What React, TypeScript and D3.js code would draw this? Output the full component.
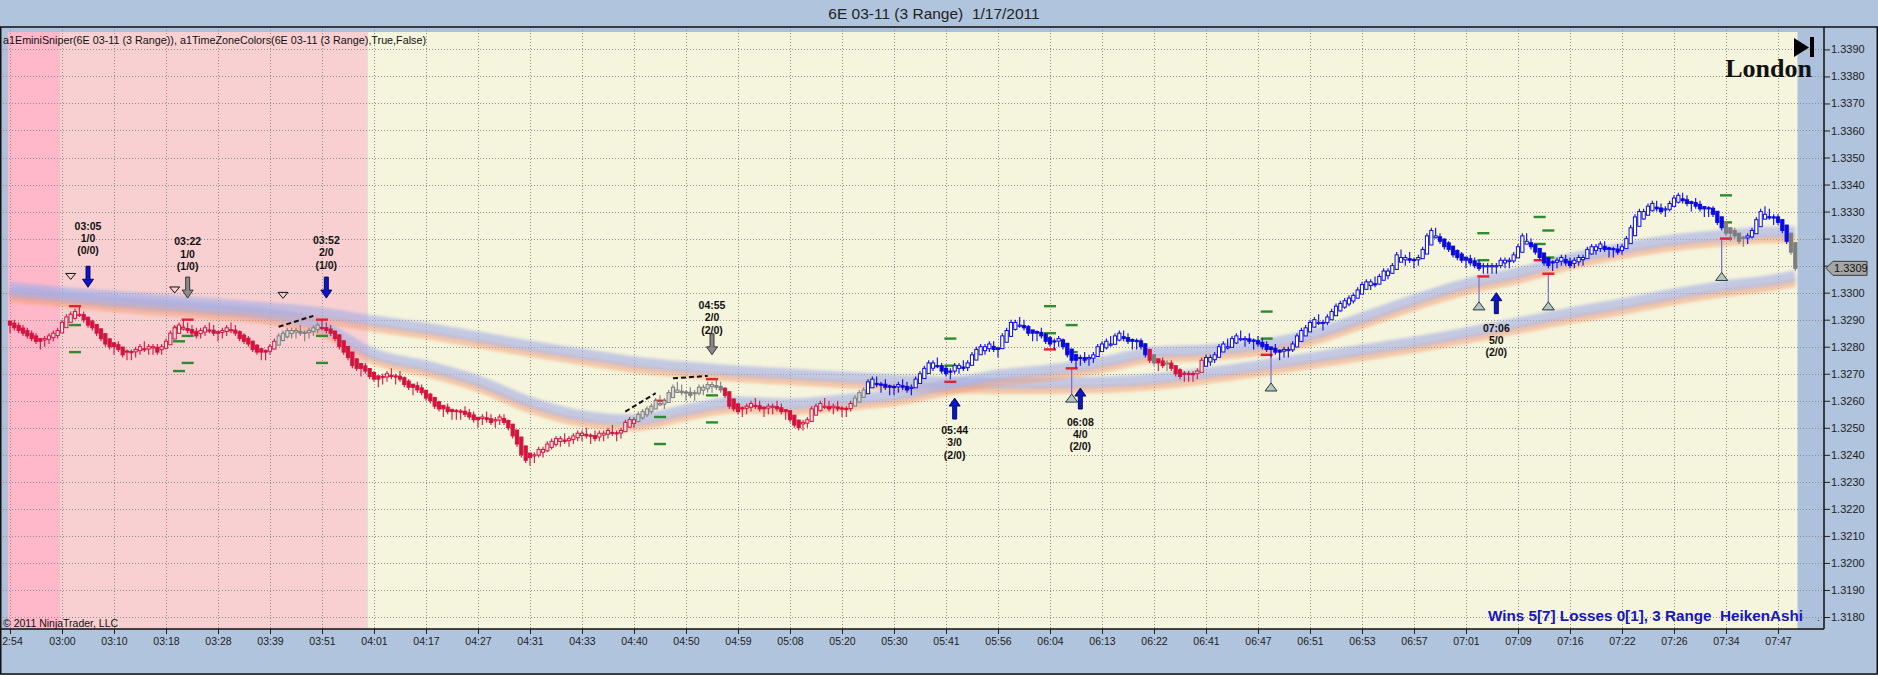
import { useEffect, useRef } from "react";
import * as d3 from "d3";

const chartTitle = "6E 03-11 (3 Range)  1/17/2011";
const indicatorLabel =
  "a1EminiSniper(6E 03-11 (3 Range)), a1TimeZoneColors(6E 03-11 (3 Range),True,False)";
const statsLabel = "Wins 5[7] Losses 0[1], 3 Range  HeikenAshi";
const copyrightLabel = "\u00a9 2011 NinjaTrader, LLC";
const sessionName = "London";

// one time label every 12 range bars (the first one is cut by the panel edge)
const BARS_PER_LABEL = 12;
const timeLabels = [
  "2:54", "03:00", "03:10", "03:18", "03:28", "03:39", "03:51", "04:01", "04:17",
  "04:27", "04:31", "04:33", "04:40", "04:50", "04:59", "05:08", "05:20", "05:30",
  "05:41", "05:56", "06:04", "06:13", "06:22", "06:41", "06:47", "06:51", "06:53",
  "06:57", "07:01", "07:09", "07:16", "07:22", "07:26", "07:34", "07:47",
];

const priceTicks = [
  1.318, 1.319, 1.32, 1.321, 1.322, 1.323, 1.324, 1.325, 1.326, 1.327, 1.328,
  1.329, 1.33, 1.331, 1.332, 1.333, 1.334, 1.335, 1.336, 1.337, 1.338, 1.339,
];

// Heiken Ashi close of every 3-tick range bar, in pips above 1.3000
const closePips = [
  288, 287, 286, 285, 284, 283, 282, 282, 283, 284, 285, 286,
  289, 291, 292, 293, 292, 290, 288, 287, 285, 283, 281, 280,
  280, 279, 277, 278, 278, 279, 280, 279, 280, 280, 278, 280,
  282, 285, 287, 288, 287, 286, 285, 284, 286, 287, 286, 285,
  285, 286, 287, 286, 285, 283, 282, 281, 279, 278, 278, 278,
  280, 282, 284, 285, 286, 286, 286, 285, 285, 286, 287, 288,
  287, 286, 285, 283, 280, 278, 276, 273, 272, 272, 271, 269,
  268, 268, 269, 270, 269, 269, 268, 266, 265, 265, 264, 263,
  261, 260, 258, 257, 257, 256, 256, 256, 256, 255, 254, 253,
  253, 254, 253, 252, 253, 254, 252, 250, 247, 244, 240, 238,
  239, 240, 242, 242, 244, 245, 246, 246, 245, 246, 247, 248,
  248, 247, 247, 246, 248, 248, 249, 248, 248, 249, 252, 253,
  253, 255, 256, 257, 258, 260, 259, 260, 263, 265, 264, 263,
  263, 262, 263, 265, 265, 266, 266, 265, 264, 262, 258, 257,
  256, 257, 258, 259, 258, 257, 257, 258, 258, 257, 256, 256,
  253, 251, 250, 252, 253, 257, 258, 259, 258, 257, 258, 257,
  257, 257, 259, 261, 263, 264, 267, 268, 266, 266, 265, 265,
  265, 266, 265, 264, 265, 268, 270, 272, 274, 274, 273, 271,
  270, 271, 273, 273, 272, 274, 277, 279, 280, 280, 281, 279,
  279, 284, 286, 289, 289, 288, 287, 285, 285, 285, 284, 282,
  281, 282, 283, 280, 277, 275, 275, 276, 275, 276, 277, 280,
  281, 282, 281, 284, 285, 283, 282, 282, 282, 280, 277, 275,
  274, 274, 273, 274, 272, 270, 269, 270, 270, 270, 271, 275,
  276, 276, 277, 280, 281, 280, 283, 284, 283, 283, 282, 282,
  281, 280, 279, 279, 278, 278, 279, 279, 281, 284, 286, 287,
  289, 290, 289, 289, 291, 293, 295, 296, 297, 298, 299, 301,
  303, 304, 304, 303, 306, 308, 308, 310, 314, 313, 313, 312,
  312, 313, 316, 321, 323, 321, 319, 317, 316, 314, 313, 312,
  312, 311, 310, 309, 310, 310, 310, 310, 312, 312, 312, 314,
  317, 321, 319, 317, 315, 313, 311, 310, 311, 312, 313, 311,
  310, 312, 313, 313, 316, 317, 317, 318, 316, 316, 316, 315,
  317, 320, 324, 328, 330, 330, 332, 333, 331, 330, 331, 333,
  335, 336, 334, 333, 333, 332, 331, 331, 331, 329, 326, 324,
  322, 322, 321, 319, 320, 321, 323, 327, 330, 329, 328, 328,
  326, 323, 319, 315, 309,
];

// bar colouring by trend: [first bar, last bar, trend]
const trendRuns: [number, number, string][] = [
  [0, 61, "down"], [62, 71, "flat"], [72, 144, "down"], [145, 164, "flat"],
  [165, 194, "down"], [195, 197, "flat"], [198, 262, "up"], [263, 263, "down"],
  [264, 264, "flat"], [265, 266, "down"], [267, 267, "flat"], [268, 275, "down"],
  [276, 395, "up"], [396, 400, "flat"], [401, 410, "up"], [411, 412, "flat"],
];

// time zone background: [first bar, last bar, zone]
const zoneRuns: [number, number, string][] = [
  [0, 11, "pre"], [12, 82, "open"], [83, 412, "london"],
];

// moving-average ribbons, read at every label bar and at the last bar
const fastMA = [
  1.33002, 1.32987, 1.32968, 1.32954, 1.32939, 1.32921, 1.32877, 1.32773, 1.32729,
  1.32673, 1.32595, 1.32544, 1.32529, 1.32566, 1.32595, 1.32588, 1.32603, 1.32621,
  1.32658, 1.32695, 1.32714, 1.32743, 1.3278, 1.32788, 1.32806, 1.32843, 1.32906,
  1.32973, 1.33032, 1.33073, 1.33125, 1.33165, 1.33195, 1.33213, 1.33224, 1.33224,
];
const slowMA = [
  1.33021, 1.33002, 1.32987, 1.32973, 1.32958, 1.32943, 1.32925, 1.32895, 1.32869,
  1.32836, 1.32803, 1.32773, 1.32744, 1.32725, 1.3271, 1.32699, 1.32688, 1.32677,
  1.32669, 1.32666, 1.32666, 1.32669, 1.32681, 1.32703, 1.32729, 1.32758, 1.32788,
  1.32817, 1.32851, 1.32888, 1.32925, 1.32958, 1.32995, 1.33025, 1.3305, 1.33062,
];

// trade signals: [bar, direction, kind, arrow tip price, label price, time, trades, stats]
const signals: [number, string, string, number, number, string, string, string][] = [
  [18, "down", "live", 1.3302, 1.33247, "03:05", "1/0", "(0/0)"],
  [41, "down", "skip", 1.3298, 1.3319, "03:22", "1/0", "(1/0)"],
  [73, "down", "live", 1.3298, 1.33195, "03:52", "2/0", "(1/0)"],
  [162, "down", "skip", 1.3277, 1.32954, "04:55", "2/0", "(2/0)"],
  [218, "up", "live", 1.3261, 1.32492, "05:44", "3/0", "(2/0)"],
  [247, "up", "live", 1.32647, 1.32523, "06:08", "4/0", "(2/0)"],
  [343, "up", "live", 1.33, 1.3287, "07:06", "5/0", "(2/0)"],
];

// setup triangles above price: [bar, price]
const setupMarks: [number, number][] = [
  [14, 1.3306], [38, 1.3301], [63, 1.3299],
];

// stop triangles below price with their stem: [bar, triangle price, stem top price]
const stopMarks: [number, number, number][] = [
  [245, 1.3261, 1.32718], [291, 1.32651, 1.32766], [339, 1.32951, 1.33055],
  [355, 1.32951, 1.33074], [395, 1.3306, 1.33195],
];

// entry / target levels: [bar, price, kind]
const levelMarks: [number, number, string][] = [
  [15, 1.3295, "stop"], [15, 1.3288, "target"], [15, 1.3278, "target"],
  [39, 1.3287, "stop"], [39, 1.3282, "target"], [39, 1.3271, "target"],
  [41, 1.329, "stop"], [41, 1.3284, "target"], [41, 1.3274, "target"],
  [72, 1.329, "stop"], [72, 1.3284, "target"], [72, 1.3274, "target"],
  [150, 1.326, "stop"], [150, 1.3254, "target"], [150, 1.3244, "target"],
  [162, 1.3268, "stop"], [162, 1.3262, "target"], [162, 1.3252, "target"],
  [217, 1.3267, "stop"], [217, 1.3273, "target"], [217, 1.3283, "target"],
  [240, 1.3279, "stop"], [240, 1.3285, "target"], [240, 1.3295, "target"],
  [245, 1.3272, "stop"], [245, 1.3278, "target"], [245, 1.3288, "target"],
  [290, 1.3277, "stop"], [290, 1.3283, "target"], [290, 1.3293, "target"],
  [340, 1.3306, "stop"], [340, 1.3312, "target"], [340, 1.3322, "target"],
  [353, 1.3312, "stop"], [353, 1.3318, "target"], [353, 1.3328, "target"],
  [355, 1.3307, "stop"], [355, 1.3313, "target"], [355, 1.3323, "target"],
  [396, 1.332, "stop"], [396, 1.3326, "target"], [396, 1.3336, "target"],
];

// dashed divergence lines: [bar, price, bar, price]
const divergenceLines: [number, number, number, number][] = [
  [62, 1.32874, 70, 1.32914],
  [142, 1.3256, 149, 1.32628],
  [153, 1.32683, 161, 1.32692],
];

const trendStyle: Record<string, { line: string; hollow: string }> = {
  down: { line: "#D3143F", hollow: "#FBE6E8" },
  up: { line: "#0A0AE0", hollow: "#FFFFFF" },
  flat: { line: "#7E7E7E", hollow: "#D8D8D8" },
};
const zoneFill: Record<string, string> = {
  pre: "#FFB8C9",
  open: "#F8D0D1",
  london: "#F5F4DC",
};

const App = () => {
  const ref = useRef<SVGSVGElement>(null);

  useEffect(() => {
    document.body.style.margin = "0";
    if (!ref.current) return;
    const svg = d3.select(ref.current);
    svg.selectAll("*").remove();

    const font = "'Liberation Sans', Arial, sans-serif";
    const axisX = 1824;
    const panelTop = 27;
    const zoneTop = 32;
    const axisY = 629;

    const x = d3.scaleLinear().domain([0, 408]).range([10, 1778]);
    const y = d3.scaleLinear().domain([1.318, 1.339]).range([617, 49.4]);

    const defs = svg.append("defs");
    defs
      .append("filter")
      .attr("id", "soft")
      .attr("x", "-5%")
      .attr("y", "-50%")
      .attr("width", "110%")
      .attr("height", "200%")
      .append("feGaussianBlur")
      .attr("stdDeviation", 1.8);

    // background
    svg.append("rect").attr("width", 1878).attr("height", 675).attr("fill", "#B0C4DE");
    svg
      .append("rect")
      .attr("x", 0)
      .attr("y", panelTop)
      .attr("width", axisX)
      .attr("height", axisY - panelTop)
      .attr("fill", "#ADC1DD");

    // session zones
    svg
      .append("g")
      .selectAll("rect")
      .data(zoneRuns)
      .enter()
      .append("rect")
      .attr("x", (d) => x(d[0] - 0.5))
      .attr("width", (d) => x(d[1] + 0.5) - x(d[0] - 0.5))
      .attr("y", zoneTop)
      .attr("height", axisY - zoneTop)
      .attr("fill", (d) => zoneFill[d[2]]);

    // grid
    const grid = svg
      .append("g")
      .attr("stroke", "#8E8E8E")
      .attr("stroke-width", 1)
      .attr("stroke-dasharray", "1,2");
    grid
      .selectAll("line.h")
      .data(priceTicks)
      .enter()
      .append("line")
      .attr("x1", 0)
      .attr("x2", axisX)
      .attr("y1", (d) => Math.round(y(d)) + 0.5)
      .attr("y2", (d) => Math.round(y(d)) + 0.5);
    grid
      .selectAll("line.v")
      .data(timeLabels)
      .enter()
      .append("line")
      .attr("x1", (_d, i) => Math.round(x(i * BARS_PER_LABEL)) + 0.5)
      .attr("x2", (_d, i) => Math.round(x(i * BARS_PER_LABEL)) + 0.5)
      .attr("y1", panelTop)
      .attr("y2", axisY);

    // ribbons
    const maBars = [...timeLabels.map((_d, i) => i * BARS_PER_LABEL), closePips.length - 1];
    const maLine = d3
      .line<number>()
      .x((_d, i) => x(maBars[i]))
      .y((d) => y(d))
      .curve(d3.curveMonotoneX);
    [slowMA, fastMA].forEach((ma) => {
      svg
        .append("path")
        .attr("d", maLine(ma))
        .attr("transform", "translate(0,7)")
        .attr("fill", "none")
        .attr("stroke", "#F29C74")
        .attr("stroke-opacity", 0.5)
        .attr("stroke-width", 8)
        .attr("filter", "url(#soft)");
      svg
        .append("path")
        .attr("d", maLine(ma))
        .attr("fill", "none")
        .attr("stroke", "#A4AEE6")
        .attr("stroke-opacity", 0.6)
        .attr("stroke-width", 11)
        .attr("filter", "url(#soft)");
    });

    // dashed divergence lines
    svg
      .append("g")
      .selectAll("line")
      .data(divergenceLines)
      .enter()
      .append("line")
      .attr("x1", (d) => x(d[0]))
      .attr("y1", (d) => y(d[1]))
      .attr("x2", (d) => x(d[2]))
      .attr("y2", (d) => y(d[3]))
      .attr("stroke", "#111")
      .attr("stroke-width", 2)
      .attr("stroke-dasharray", "5,3");

    // stop stems
    svg
      .append("g")
      .selectAll("line")
      .data(stopMarks)
      .enter()
      .append("line")
      .attr("x1", (d) => x(d[0]))
      .attr("x2", (d) => x(d[0]))
      .attr("y1", (d) => y(d[2]))
      .attr("y2", (d) => y(d[1]) - 3)
      .attr("stroke", "#7A6EC2")
      .attr("stroke-width", 1.2);

    // level dashes
    svg
      .append("g")
      .selectAll("rect")
      .data(levelMarks)
      .enter()
      .append("rect")
      .attr("x", (d) => x(d[0]) - 6)
      .attr("y", (d) => y(d[1]) - 1.2)
      .attr("width", 12)
      .attr("height", 2.4)
      .attr("fill", (d) => (d[2] === "stop" ? "#E3222C" : "#2E8B30"));

    // Heiken Ashi candles: close, open by the HA rule,
    // wicks from the 3-pip range of the underlying bar
    const RANGE = 0.0003;
    const closes = closePips.map((p) => 1.3 + p / 10000);
    const candles: { i: number; o: number; c: number; h: number; l: number }[] = [];
    closes.forEach((c, i) => {
      const prevClose = i === 0 ? c : closes[i - 1];
      const up = c >= prevClose;
      const rawHigh = up ? c + RANGE / 3 : c + RANGE;
      const rawLow = up ? c - RANGE : c - RANGE / 3;
      const prev = candles[i - 1];
      const o = prev ? (prev.o + prev.c) / 2 : c + RANGE / 2;
      candles.push({
        i,
        o,
        c,
        h: Math.max(rawHigh, o, c),
        l: Math.min(rawLow, o, c),
      });
    });
    const trendOf = (i: number) =>
      (trendRuns.find((r) => i >= r[0] && i <= r[1]) || trendRuns[0])[2];

    const cg = svg
      .append("g")
      .selectAll("g")
      .data(candles)
      .enter()
      .append("g");
    cg.append("line")
      .attr("x1", (d) => x(d.i))
      .attr("x2", (d) => x(d.i))
      .attr("y1", (d) => y(d.h))
      .attr("y2", (d) => y(d.l))
      .attr("stroke", (d) => trendStyle[trendOf(d.i)].line)
      .attr("stroke-width", 1.1);
    cg.append("rect")
      .attr("x", (d) => x(d.i) - 1.6)
      .attr("width", 3.2)
      .attr("y", (d) => y(Math.max(d.o, d.c)))
      .attr("height", (d) => Math.max(1.2, Math.abs(y(d.o) - y(d.c))))
      .attr("fill", (d) =>
        d.c >= d.o ? trendStyle[trendOf(d.i)].hollow : trendStyle[trendOf(d.i)].line
      )
      .attr("stroke", (d) => trendStyle[trendOf(d.i)].line)
      .attr("stroke-width", 1);

    // setup triangles
    svg
      .append("g")
      .selectAll("path")
      .data(setupMarks)
      .enter()
      .append("path")
      .attr("d", (d) => {
        const cx = x(d[0]);
        const cy = y(d[1]);
        return `M${cx - 5},${cy - 3}L${cx + 5},${cy - 3}L${cx},${cy + 3}Z`;
      })
      .attr("fill", "none")
      .attr("stroke", "#111")
      .attr("stroke-width", 1);

    // stop triangles
    svg
      .append("g")
      .selectAll("path")
      .data(stopMarks)
      .enter()
      .append("path")
      .attr("d", (d) => {
        const cx = x(d[0]);
        const cy = y(d[1]);
        return `M${cx - 6},${cy + 4}L${cx + 6},${cy + 4}L${cx},${cy - 4}Z`;
      })
      .attr("fill", "#B3C8C6")
      .attr("stroke", "#2B3838")
      .attr("stroke-width", 1);

    // signal arrows and labels
    const arrowPath = (cx: number, tip: number, dir: string) => {
      const s = dir === "down" ? -1 : 1;
      const tail = tip + s * 21;
      const neck = tip + s * 8;
      return `M${cx - 2},${tail}L${cx + 2},${tail}L${cx + 2},${neck}L${cx + 5.5},${neck}L${cx},${tip}L${cx - 5.5},${neck}L${cx - 2},${neck}Z`;
    };
    const sig = svg.append("g");
    sig
      .selectAll("path")
      .data(signals)
      .enter()
      .append("path")
      .attr("d", (d) => arrowPath(x(d[0]), y(d[3]), d[1]))
      .attr("fill", (d) => (d[2] === "live" ? "#0A16C8" : "#8A8A8A"))
      .attr("stroke", (d) => (d[2] === "live" ? "#000050" : "#2A2A2A"))
      .attr("stroke-width", 0.9);
    const labels = sig
      .selectAll("text")
      .data(signals)
      .enter()
      .append("text")
      .attr("text-anchor", "middle")
      .attr("font-family", font)
      .attr("font-weight", "bold")
      .attr("font-size", 10.5)
      .attr("fill", "#111");
    [5, 6, 7].forEach((k, j) => {
      labels
        .append("tspan")
        .attr("x", (d) => x(d[0]))
        .attr("y", (d) => y(d[4]) + 4 + j * 12.3)
        .text((d) => d[k] as string);
    });

    // session label and icon
    svg
      .append("text")
      .attr("x", 1812)
      .attr("y", 77)
      .attr("text-anchor", "end")
      .attr("font-family", "'Liberation Serif', 'Times New Roman', serif")
      .attr("font-weight", "bold")
      .attr("font-size", 26)
      .attr("fill", "#111")
      .text(sessionName);
    svg.append("path").attr("d", "M1794,38L1794,57L1809,47.5Z").attr("fill", "#000");
    svg
      .append("rect")
      .attr("x", 1810)
      .attr("y", 37)
      .attr("width", 4)
      .attr("height", 20)
      .attr("fill", "#000");

    // panel texts
    svg
      .append("text")
      .attr("x", 3)
      .attr("y", 44)
      .attr("font-family", font)
      .attr("font-size", 11)
      .attr("textLength", 423)
      .attr("lengthAdjust", "spacingAndGlyphs")
      .attr("fill", "#111")
      .text(indicatorLabel);
    svg
      .append("text")
      .attr("x", 3)
      .attr("y", 627)
      .attr("font-family", font)
      .attr("font-size", 10.5)
      .attr("fill", "#111")
      .text(copyrightLabel);
    svg
      .append("text")
      .attr("x", 1488)
      .attr("y", 621)
      .attr("font-family", font)
      .attr("font-weight", "bold")
      .attr("font-size", 15.5)
      .attr("textLength", 315)
      .attr("lengthAdjust", "spacingAndGlyphs")
      .style("white-space", "pre")
      .attr("fill", "#1717BE")
      .text(statsLabel);
    svg
      .append("text")
      .attr("x", 1817)
      .attr("y", 621)
      .attr("font-family", font)
      .attr("font-size", 11)
      .attr("fill", "#333")
      .text(".");

    // axes
    const yAxis = svg
      .append("g")
      .attr("transform", `translate(${axisX},0)`)
      .call(
        d3
          .axisRight(y)
          .tickValues(priceTicks)
          .tickFormat((d) => d3.format(".4f")(d as number))
          .tickSize(6)
          .tickPadding(1)
      );
    yAxis.select(".domain").remove();
    yAxis.selectAll("line").attr("stroke", "#222");
    yAxis
      .selectAll("text")
      .attr("font-family", font)
      .attr("font-size", 11)
      .attr("fill", "#222");

    const xAxis = svg
      .append("g")
      .attr("transform", `translate(0,${axisY})`)
      .call(
        d3
          .axisBottom(x)
          .tickValues(timeLabels.map((_d, i) => i * BARS_PER_LABEL))
          .tickFormat((_d, i) => timeLabels[i])
          .tickSize(5)
          .tickPadding(4)
      );
    xAxis.select(".domain").remove();
    xAxis.selectAll("line").attr("stroke", "#222");
    xAxis
      .selectAll("text")
      .attr("font-family", font)
      .attr("font-size", 10.5)
      .attr("fill", "#222")
      .attr("dx", (_d, i) => (i === 0 ? 2 : 0));

    svg
      .append("line")
      .attr("x1", 0)
      .attr("x2", axisX)
      .attr("y1", axisY)
      .attr("y2", axisY)
      .attr("stroke", "#111")
      .attr("stroke-width", 1.5);
    svg
      .append("line")
      .attr("x1", axisX)
      .attr("x2", axisX)
      .attr("y1", panelTop)
      .attr("y2", axisY)
      .attr("stroke", "#111")
      .attr("stroke-width", 1.5);

    // last price marker
    const last = closes[closes.length - 1];
    const ly = y(last);
    svg
      .append("path")
      .attr(
        "d",
        `M${axisX + 2},${ly}L${axisX + 9},${ly - 7}L${axisX + 43},${ly - 7}L${axisX + 43},${ly + 7}L${axisX + 9},${ly + 7}Z`
      )
      .attr("fill", "#A6A6A6")
      .attr("stroke", "#3A3A3A")
      .attr("stroke-width", 1);
    svg
      .append("text")
      .attr("x", axisX + 10)
      .attr("y", ly + 4)
      .attr("font-family", font)
      .attr("font-size", 11)
      .attr("fill", "#111")
      .text(last.toFixed(4));

    // frame and title
    svg
      .append("rect")
      .attr("x", 0.75)
      .attr("y", panelTop)
      .attr("width", 1876.5)
      .attr("height", 674 - panelTop)
      .attr("fill", "none")
      .attr("stroke", "#111")
      .attr("stroke-width", 1.5);
    svg
      .append("text")
      .attr("x", 934)
      .attr("y", 19)
      .attr("text-anchor", "middle")
      .attr("font-family", font)
      .attr("font-size", 15.5)
      .attr("fill", "#222")
      .style("white-space", "pre")
      .text(chartTitle);
  }, []);

  return <svg ref={ref} width={1878} height={675} style={{ display: "block" }}></svg>;
};

export default App;
